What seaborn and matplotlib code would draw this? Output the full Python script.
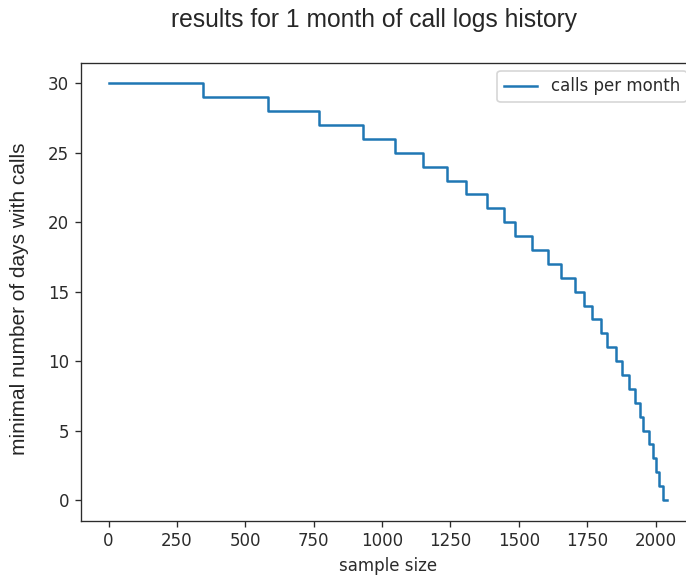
import matplotlib
matplotlib.use("Agg")
import matplotlib.pyplot as plt
import seaborn as sns
import pandas as pd

# sample size at which the minimal number of days with calls drops
sample_size = [0, 346, 582, 770, 931, 1049, 1150, 1238, 1306, 1384, 1445, 1486,
               1549, 1608, 1656, 1705, 1737, 1768, 1799, 1822, 1854, 1879, 1902,
               1926, 1942, 1954, 1975, 1990, 2002, 2013, 2028, 2042]
min_days = [30, 29, 28, 27, 26, 25, 24, 23, 22, 21, 20, 19,
            18, 17, 16, 15, 14, 13, 12, 11, 10, 9, 8,
            7, 6, 5, 4, 3, 2, 1, 0, 0]
series_label = "calls per month"
title_text = "results for 1 month of call logs history"
x_label = "sample size"
y_label = "minimal number of days with calls"

df = pd.DataFrame({"sample size": sample_size, "days": min_days})

ink = "#2b2b2b"
plt.rcParams.update({
    "axes.edgecolor": ink,
    "xtick.color": ink,
    "ytick.color": ink,
    "xtick.labelcolor": ink,
    "ytick.labelcolor": ink,
    "axes.labelcolor": ink,
    "text.color": ink,
})

W, H, DPI = 686, 577, 120
fig = plt.figure(figsize=(W / DPI, H / DPI), dpi=DPI)
fig.patch.set_facecolor("white")

left, right, top, bottom = 80.6, 695.0, 62.5, 520.8
ax = fig.add_axes([left / W, (H - bottom) / H, (right - left) / W, (bottom - top) / H])

sns.lineplot(data=df, x="sample size", y="days", ax=ax, drawstyle="steps-post",
             color="#1f77b4", linewidth=1.5, label=series_label)

ax.set_xticks([0, 250, 500, 750, 1000, 1250, 1500, 1750, 2000])
ax.set_yticks([0, 5, 10, 15, 20, 25, 30])
ax.set_xlabel(x_label, fontsize=10, family="DejaVu Sans")
ax.set_ylabel("")
ax.legend(loc="upper right", fontsize=10)

fig.text(374 / W, 1 - 27 / H, title_text, ha="center", va="baseline",
         fontsize=14.8, family="Liberation Sans", color="#262626")
fig.text(20 / W, 1 - 298.4 / H, y_label, ha="center", va="center", rotation=90,
         fontsize=12.5, family="Liberation Sans", color="#262626")

fig.savefig("out.png", dpi=DPI, facecolor="white")
